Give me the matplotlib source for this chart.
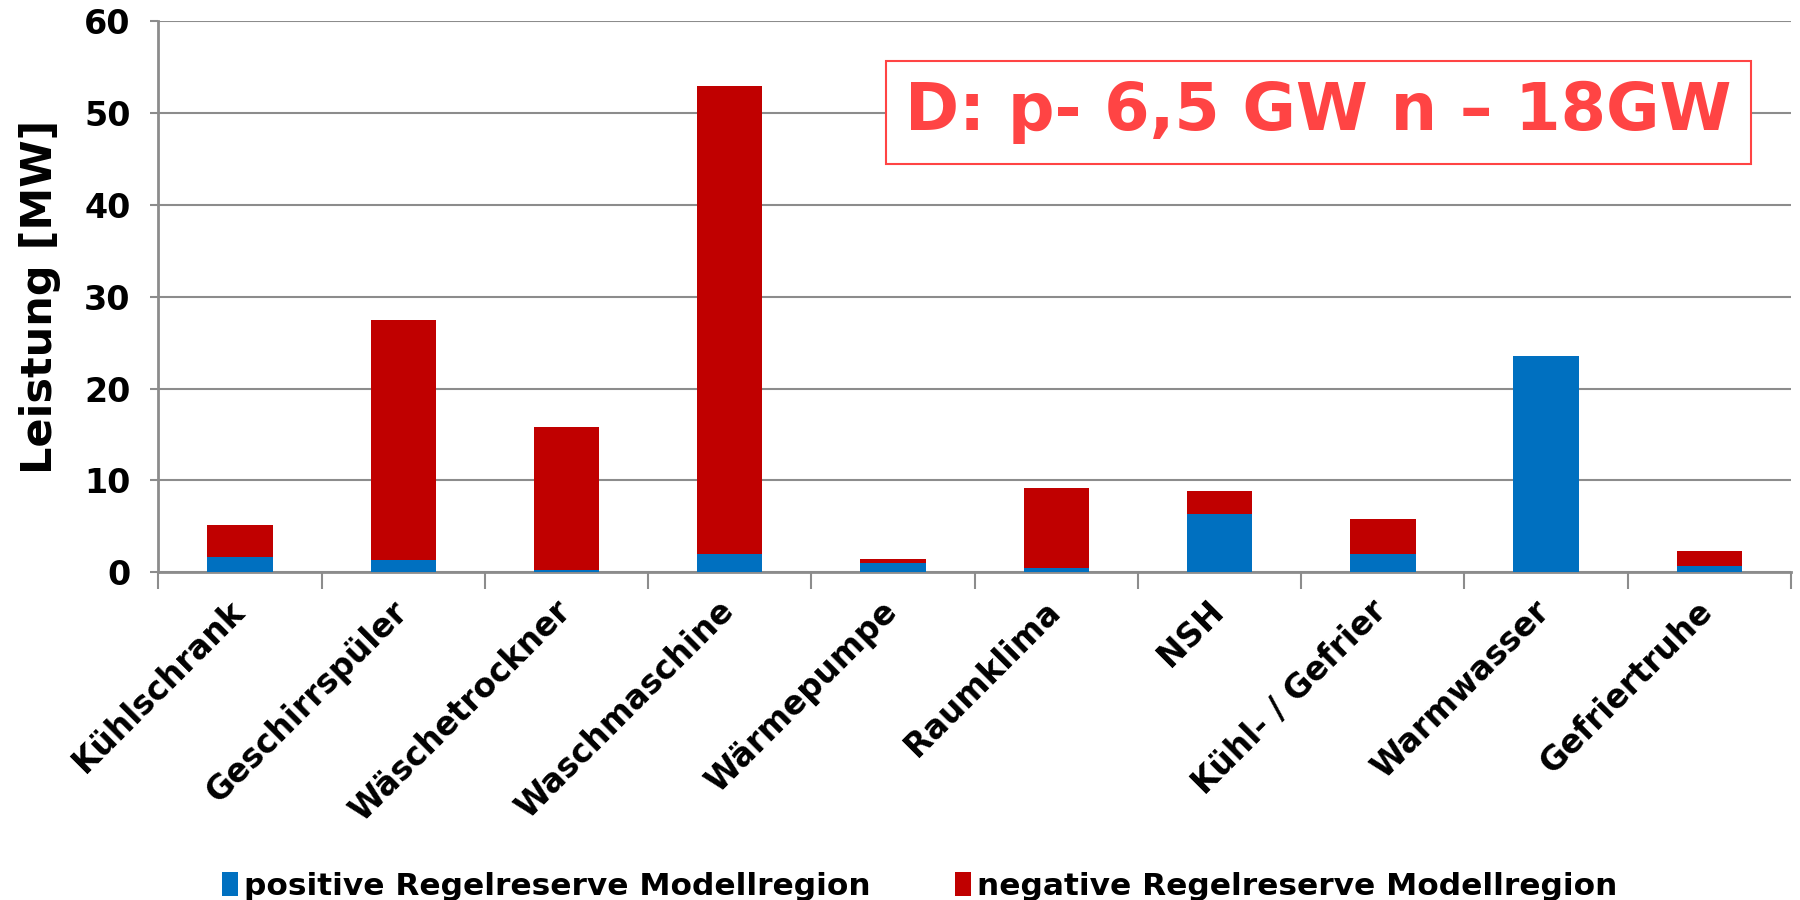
"""Stacked bars of reserve power per household appliance."""
import matplotlib
matplotlib.use("Agg")
import matplotlib.pyplot as plt
import matplotlib.transforms as mtransforms
import numpy as np

plt.rcParams["font.family"] = ["DejaVu Sans"]
plt.rcParams["font.weight"] = "bold"
plt.rcParams["axes.labelweight"] = "bold"

CATEGORIES = [
    "Kühlschrank", "Geschirrspüler", "Wäschetrockner", "Waschmaschine",
    "Wärmepumpe", "Raumklima", "NSH", "Kühl- / Gefrier", "Warmwasser",
    "Gefriertruhe",
]
# totals per appliance in MW
POSITIVE = [1.7, 1.35, 0.25, 1.95, 1.0, 0.5, 6.3, 1.95, 23.55, 0.7]
TOTAL = [5.2, 27.4, 15.85, 52.95, 1.45, 9.2, 8.8, 5.85, 23.55, 2.3]
NEGATIVE = [t - p for t, p in zip(TOTAL, POSITIVE)]

BLUE = "#0070C0"
RED = "#C00000"
GRID = "#8C8C8C"

fig = plt.figure(figsize=(18, 9), dpi=100)
ax = fig.add_axes([0.088, 0.364, 0.907, 0.613])

x = np.arange(len(CATEGORIES))
ax.bar(x, POSITIVE, width=0.4, color=BLUE, zorder=3,
       label="positive Regelreserve Modellregion")
ax.bar(x, NEGATIVE, width=0.4, bottom=POSITIVE, color=RED, zorder=3,
       label="negative Regelreserve Modellregion")

ax.set_xlim(-0.5, len(CATEGORIES) - 0.5)
ax.set_ylim(0, 60)
ax.set_yticks(range(0, 61, 10))
ax.tick_params(axis="y", labelsize=24, length=6, color=GRID, width=1.5,
               pad=14)
ax.yaxis.grid(True, color=GRID, linewidth=1.5, zorder=0)

# category labels between boundary ticks
ax.set_xticks(x)
ax.set_xticklabels(CATEGORIES, rotation=45, ha="right",
                   rotation_mode="anchor", fontsize=23.5)
ax.tick_params(axis="x", length=0, pad=16)
shift = mtransforms.ScaledTranslation(-0.13, 0, fig.dpi_scale_trans)
for lbl in ax.get_xticklabels():
    lbl.set_transform(lbl.get_transform() + shift)
ax.set_xticks(np.arange(-0.5, len(CATEGORIES), 1), minor=True)
ax.tick_params(axis="x", which="minor", length=12, color=GRID, width=1.5)

for side in ("top", "right"):
    ax.spines[side].set_visible(False)
for side in ("left", "bottom"):
    ax.spines[side].set_color(GRID)
    ax.spines[side].set_linewidth(2)

ax.set_ylabel("Leistung [MW]", fontsize=31, labelpad=17)

ax.text(0.4575, 0.834, "D: p- 6,5 GW n – 18GW", transform=ax.transAxes,
        fontsize=47, color="#FF4444", ha="left", va="center", zorder=5,
        bbox=dict(boxstyle="square,pad=0.3", facecolor="white",
                  edgecolor="#FF4444", linewidth=1.5))

fig.legend(loc="lower center", bbox_to_anchor=(0.511, -0.032), ncol=2,
           frameon=False, fontsize=22.5, handlelength=0.5, handleheight=0.8,
           handletextpad=0.2, columnspacing=2.7)

fig.savefig("out.png", dpi=100)
